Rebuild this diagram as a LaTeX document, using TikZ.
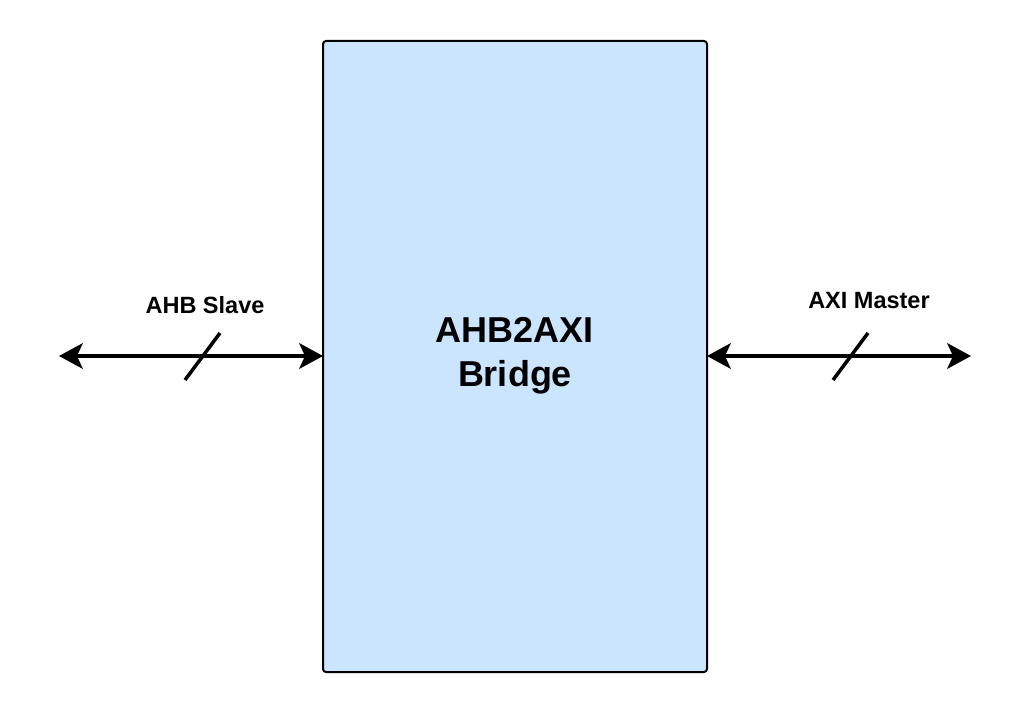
\documentclass[tikz,border=0pt]{standalone}
\usepackage{fontspec}
\setmainfont{Liberation Sans}
\usetikzlibrary{arrows.meta}
\definecolor{boxblue}{HTML}{CCE5FF}
\begin{document}
\begin{tikzpicture}[x=1pt,y=-1pt,
  tip/.tip={Stealth[length=24pt,width=26pt,inset=6pt,line width=0pt]},
  bus/.style={line width=3.5pt,tip-tip},
  slash/.style={line width=3.5pt},
  lbl/.style={font=\fontsize{23.5}{28}\selectfont\bfseries}]
\useasboundingbox (0,0) rectangle (1030,714);
\draw[line width=2pt,fill=boxblue,rounded corners=3pt] (323,41) rectangle (707,672);
\node[font=\fontsize{36}{44}\selectfont\bfseries,align=center] (br) at (515,356) {AHB2AXI\\Bridge};
\coordinate (bl) at (323,356);
\coordinate (brr) at (707,356);
\coordinate (l) at (59,356);
\coordinate (r) at (971,356);
\draw[bus] (l) -- (bl);
\draw[bus] (brr) -- (r);
\coordinate (s1a) at (185,380); \coordinate (s1b) at (220,333);
\coordinate (s2a) at (833,380); \coordinate (s2b) at (868,333);
\draw[slash] (s1a) -- (s1b);
\draw[slash] (s2a) -- (s2b);
\node[lbl] (ls) at (205,305) {AHB Slave};
\node[lbl] (rm) at (869,301) {AXI Master};
\end{tikzpicture}
\end{document}
